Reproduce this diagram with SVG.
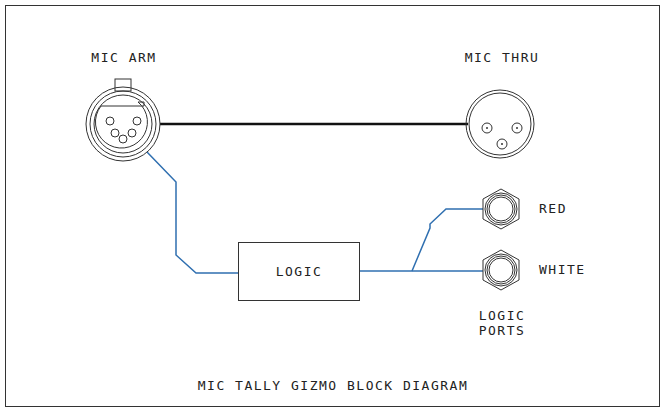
<svg xmlns="http://www.w3.org/2000/svg" width="665" height="412" viewBox="0 0 665 412">
<style>
.t{font-family:"DejaVu Sans Mono",monospace;font-size:13px;fill:#222;letter-spacing:1.5px}
.o{fill:none;stroke:#333;stroke-width:1}
.b{fill:none;stroke:#2f6fb0;stroke-width:1.5}
</style>
<rect width="665" height="412" fill="#fff"/>
<rect x="5.5" y="5.5" width="654" height="401" class="o"/>
<g id="connectors">
<line x1="160" y1="124" x2="468" y2="124" stroke="#111" stroke-width="2.5"/>
<polyline class="b" points="147,152 176,182 176,255 196,273 238,273"/>
<polyline class="b" points="360,271 483,271"/>
<polyline class="b" points="412,271 430,228 430,224 446,209 483,209"/>
</g>
<g id="micarm">
<text class="t" x="124" y="62" text-anchor="middle">MIC ARM</text>
<circle cx="123" cy="124" r="37" class="o"/>
<circle cx="123" cy="124" r="33" class="o"/>
<circle cx="123" cy="124" r="29" class="o"/>
<rect x="115" y="79" width="16" height="12" class="o" stroke-width="2" fill="#fff"/>
<path d="M101,106 L144,106 L144,102 L138,102 A26,26 0 1 1 101,106 Z" class="o" fill="#fff"/>
<circle cx="110" cy="121" r="4" class="o"/><circle cx="137" cy="121" r="4" class="o"/>
<circle cx="115" cy="133" r="4" class="o"/><circle cx="132" cy="133" r="4" class="o"/>
<circle cx="123" cy="139" r="4" class="o"/>
</g>
<g id="micthru">
<text class="t" x="502" y="62" text-anchor="middle">MIC THRU</text>
<circle cx="500" cy="124" r="34" class="o" stroke-width="1.5"/>
<circle cx="500" cy="124" r="31" class="o"/>
<circle cx="487" cy="128" r="5" class="o"/><circle cx="487" cy="128" r="1" fill="#333"/>
<circle cx="517" cy="128" r="5" class="o"/><circle cx="517" cy="128" r="1" fill="#333"/>
<circle cx="502" cy="144" r="5" class="o"/><circle cx="502" cy="144" r="1" fill="#333"/>
</g>
<g id="logic">
<rect x="238.5" y="242.5" width="121" height="58" class="o"/>
<text class="t" x="299" y="276" text-anchor="middle">LOGIC</text>
</g>
<g id="red">
<polygon class="o" points="501,189 519,199 519,219 501,229 483,219 483,199"/>
<circle cx="501" cy="209" r="16" class="o"/><circle cx="501" cy="209" r="14" class="o"/><circle cx="501" cy="209" r="12" class="o"/>
<text class="t" x="539" y="213">RED</text>
</g>
<g id="white">
<polygon class="o" points="501,250 519,260 519,280 501,290 483,280 483,260"/>
<circle cx="501" cy="270" r="16" class="o"/><circle cx="501" cy="270" r="14" class="o"/><circle cx="501" cy="270" r="12" class="o"/>
<text class="t" x="539" y="274">WHITE</text>
</g>
<text class="t" x="502" y="320" text-anchor="middle">LOGIC</text>
<text class="t" x="502" y="335" text-anchor="middle">PORTS</text>
<text class="t" x="333" y="390" text-anchor="middle">MIC TALLY GIZMO BLOCK DIAGRAM</text>
</svg>
